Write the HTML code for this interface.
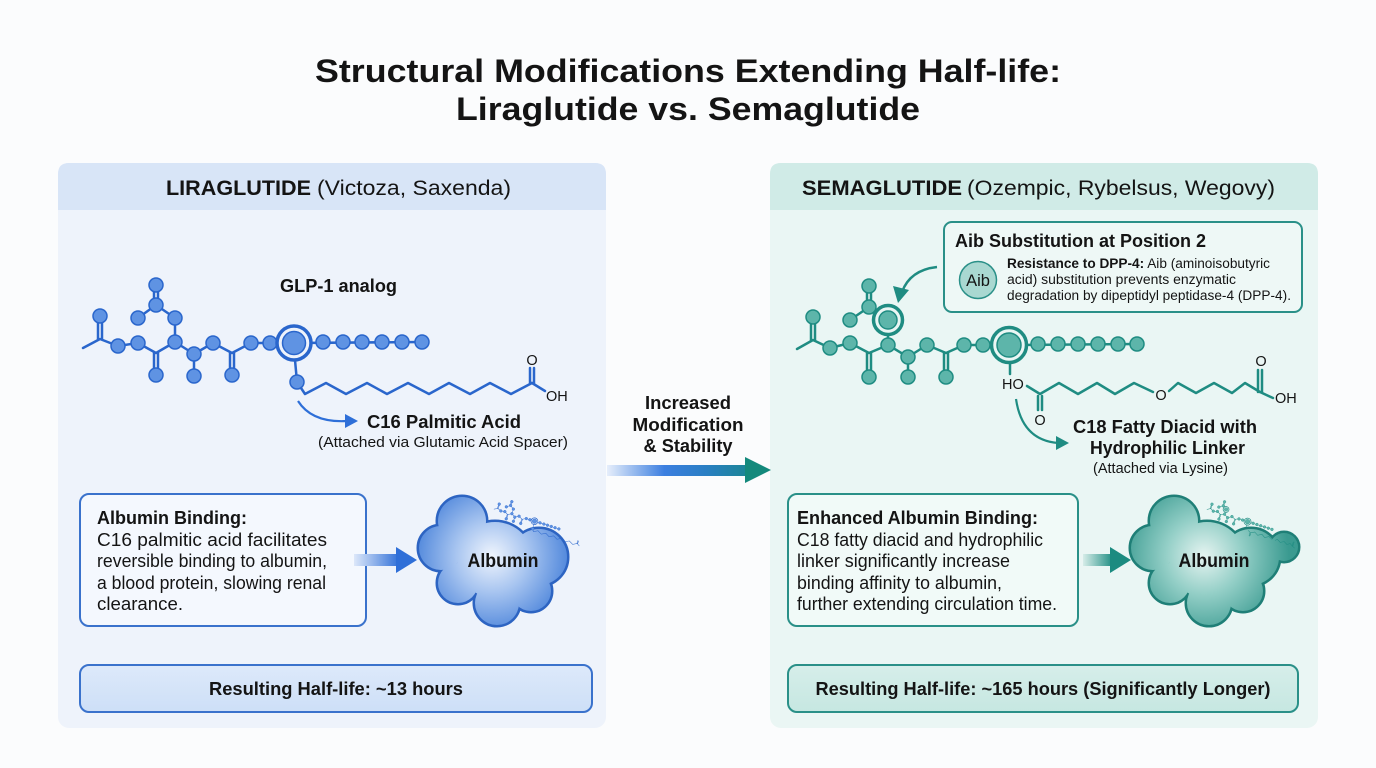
<!DOCTYPE html>
<html>
<head>
<meta charset="utf-8">
<style>
html,body{margin:0;padding:0;background:#fbfcfd;}
svg{display:block;}
text{font-family:"Liberation Sans",Arial,sans-serif;fill:#141414;}
.b{font-weight:bold;}
</style>
</head>
<body>
<svg width="1376" height="768" viewBox="0 0 1376 768" xmlns="http://www.w3.org/2000/svg">
<defs>
  <linearGradient id="centerArrow" x1="607" y1="0" x2="771" y2="0" gradientUnits="userSpaceOnUse">
    <stop offset="0" stop-color="#e6eefb"/>
    <stop offset="0.35" stop-color="#3c7fe0"/>
    <stop offset="0.6" stop-color="#2a7fc4"/>
    <stop offset="1" stop-color="#14897c"/>
  </linearGradient>
  <linearGradient id="arrL" x1="352" y1="0" x2="400" y2="0" gradientUnits="userSpaceOnUse">
    <stop offset="0" stop-color="#e4edfb"/>
    <stop offset="1" stop-color="#2f6fd8"/>
  </linearGradient>
  <linearGradient id="arrR" x1="1082" y1="0" x2="1114" y2="0" gradientUnits="userSpaceOnUse">
    <stop offset="0" stop-color="#dcf0ec"/>
    <stop offset="1" stop-color="#1b8b80"/>
  </linearGradient>
  <radialGradient id="blobL" cx="492" cy="556" r="80" gradientUnits="userSpaceOnUse">
    <stop offset="0" stop-color="#f0f5fd"/>
    <stop offset="0.45" stop-color="#a8c5f0"/>
    <stop offset="1" stop-color="#4a83da"/>
  </radialGradient>
  <radialGradient id="blobR" cx="1204" cy="556" r="85" gradientUnits="userSpaceOnUse">
    <stop offset="0" stop-color="#e6f4f1"/>
    <stop offset="0.45" stop-color="#94cfc7"/>
    <stop offset="1" stop-color="#3a9a90"/>
  </radialGradient>
  <linearGradient id="hlL" x1="0" y1="665" x2="0" y2="712" gradientUnits="userSpaceOnUse">
    <stop offset="0" stop-color="#dde9fa"/>
    <stop offset="1" stop-color="#cddff7"/>
  </linearGradient>
  <linearGradient id="hlR" x1="0" y1="665" x2="0" y2="712" gradientUnits="userSpaceOnUse">
    <stop offset="0" stop-color="#d6eeea"/>
    <stop offset="1" stop-color="#c6e7e1"/>
  </linearGradient>

  <!-- Liraglutide skeleton -->
  <g id="molL">
    <g fill="none" stroke="#2a66cc" stroke-width="2.5" stroke-linecap="round" stroke-linejoin="round">
      <polyline points="83,348 100,339 118,346 138,343 156,353 175,342 194,354 213,343 232,353 251,343 270,343 294,343 422,342"/>
      <line x1="98" y1="339" x2="98" y2="316"/><line x1="102" y1="339" x2="102" y2="316"/>
      <line x1="154" y1="353" x2="154" y2="375"/><line x1="158" y1="353" x2="158" y2="375"/>
      <line x1="230" y1="353" x2="230" y2="375"/><line x1="234" y1="353" x2="234" y2="375"/>
      <polyline points="175,342 175,318 156,305 138,318"/>
      <line x1="154" y1="305" x2="154" y2="285"/><line x1="158" y1="305" x2="158" y2="285"/>
      <line x1="194" y1="354" x2="194" y2="376"/>
      <line x1="295" y1="360" x2="297" y2="382"/>
      <polyline points="297,382 305,394 326,383 346,394 367,383 387,394 408,383 429,394 449,383 470,394 490,383 511,394 532,383"/>
      <line x1="530" y1="383" x2="530" y2="368"/><line x1="534" y1="383" x2="534" y2="368"/>
      <line x1="532" y1="383" x2="545" y2="391"/>
    </g>
    <g fill="#5f93e3" stroke="#2a66cc" stroke-width="1.5">
      <circle cx="100" cy="316" r="7"/><circle cx="118" cy="346" r="7"/><circle cx="138" cy="343" r="7"/>
      <circle cx="156" cy="375" r="7"/><circle cx="175" cy="342" r="7"/><circle cx="175" cy="318" r="7"/>
      <circle cx="138" cy="318" r="7"/><circle cx="156" cy="305" r="7"/><circle cx="156" cy="285" r="7"/>
      <circle cx="194" cy="354" r="7"/><circle cx="194" cy="376" r="7"/><circle cx="213" cy="343" r="7"/>
      <circle cx="232" cy="375" r="7"/><circle cx="251" cy="343" r="7"/><circle cx="270" cy="343" r="7"/>
      <circle cx="323" cy="342" r="7"/><circle cx="343" cy="342" r="7"/><circle cx="362" cy="342" r="7"/>
      <circle cx="382" cy="342" r="7"/><circle cx="402" cy="342" r="7"/><circle cx="422" cy="342" r="7"/>
      <circle cx="297" cy="382" r="7"/>
    </g>
    <circle cx="294" cy="343" r="17" fill="#eef3fb" stroke="#2a66cc" stroke-width="3.5"/>
    <circle cx="294" cy="343" r="11.5" fill="#5f93e3" stroke="#2a66cc" stroke-width="1.5"/>
  </g>

  <!-- Semaglutide skeleton -->
  <g id="molR">
    <g fill="none" stroke="#1f8c82" stroke-width="2.5" stroke-linecap="round" stroke-linejoin="round">
      <polyline points="797,349 813,340 830,348 850,343 869,353 888,345 908,357 927,345 946,353 964,345 983,345 1009,345 1137,344"/>
      <line x1="811" y1="340" x2="811" y2="317"/><line x1="815" y1="340" x2="815" y2="317"/>
      <line x1="867" y1="353" x2="867" y2="377"/><line x1="871" y1="353" x2="871" y2="377"/>
      <line x1="944" y1="353" x2="944" y2="377"/><line x1="948" y1="353" x2="948" y2="377"/>
      <polyline points="888,345 888,320 869,307 850,320"/>
      <line x1="867" y1="307" x2="867" y2="286"/><line x1="871" y1="307" x2="871" y2="286"/>
      <line x1="908" y1="357" x2="908" y2="377"/>
      <line x1="1010" y1="362" x2="1010" y2="374"/>
      <polyline points="1027,386 1040,394 1059,383 1078,394 1097,383 1115,394 1134,383 1153,392"/>
      <line x1="1038" y1="396" x2="1038" y2="410"/><line x1="1042" y1="396" x2="1042" y2="410"/>
      <polyline points="1169,391 1178,383 1196,393 1214,383 1232,393 1245,383 1260,392"/>
      <line x1="1258" y1="392" x2="1258" y2="370"/><line x1="1262" y1="392" x2="1262" y2="370"/>
      <line x1="1260" y1="392" x2="1273" y2="398"/>
    </g>
    <g fill="#5db5aa" stroke="#1f8c82" stroke-width="1.5">
      <circle cx="813" cy="317" r="7"/><circle cx="830" cy="348" r="7"/><circle cx="850" cy="343" r="7"/>
      <circle cx="869" cy="377" r="7"/><circle cx="888" cy="345" r="7"/><circle cx="850" cy="320" r="7"/>
      <circle cx="869" cy="307" r="7"/><circle cx="869" cy="286" r="7"/><circle cx="908" cy="357" r="7"/>
      <circle cx="908" cy="377" r="7"/><circle cx="927" cy="345" r="7"/><circle cx="946" cy="377" r="7"/>
      <circle cx="964" cy="345" r="7"/><circle cx="983" cy="345" r="7"/>
      <circle cx="1038" cy="344" r="7"/><circle cx="1058" cy="344" r="7"/><circle cx="1078" cy="344" r="7"/>
      <circle cx="1098" cy="344" r="7"/><circle cx="1118" cy="344" r="7"/><circle cx="1137" cy="344" r="7"/>
    </g>
    <circle cx="888" cy="320" r="14.5" fill="#eaf6f4" stroke="#1f8c82" stroke-width="3.5"/>
    <circle cx="888" cy="320" r="9" fill="#5db5aa" stroke="#1f8c82" stroke-width="1.5"/>
    <circle cx="1009" cy="345" r="17.5" fill="#eaf6f4" stroke="#1f8c82" stroke-width="3.5"/>
    <circle cx="1009" cy="345" r="12" fill="#5db5aa" stroke="#1f8c82" stroke-width="1.5"/>
  </g>
</defs>

<!-- Title -->
<text x="688" y="82" class="b" font-size="32" text-anchor="middle" textLength="746" lengthAdjust="spacingAndGlyphs">Structural Modifications Extending Half-life:</text>
<text x="688" y="120" class="b" font-size="32" text-anchor="middle" textLength="464" lengthAdjust="spacingAndGlyphs">Liraglutide vs. Semaglutide</text>

<!-- Left panel -->
<rect x="58" y="163" width="548" height="565" rx="11" fill="#eef3fb"/>
<path d="M58,210 L58,174 Q58,163 69,163 L595,163 Q606,163 606,174 L606,210 Z" fill="#d8e5f7"/>
<text x="166" y="195" class="b" font-size="21.5" textLength="145" lengthAdjust="spacingAndGlyphs">LIRAGLUTIDE</text>
<text x="317" y="195" font-size="21.5" textLength="194" lengthAdjust="spacingAndGlyphs">(Victoza, Saxenda)</text>

<!-- Right panel -->
<rect x="770" y="163" width="548" height="565" rx="11" fill="#eaf6f4"/>
<path d="M770,210 L770,174 Q770,163 781,163 L1307,163 Q1318,163 1318,174 L1318,210 Z" fill="#d0ebe7"/>
<text x="802" y="195" class="b" font-size="21.5" textLength="160" lengthAdjust="spacingAndGlyphs">SEMAGLUTIDE</text>
<text x="967" y="195" font-size="21.5" textLength="308" lengthAdjust="spacingAndGlyphs">(Ozempic, Rybelsus, Wegovy)</text>

<!-- Left molecule -->
<text x="280" y="292" class="b" font-size="18" textLength="117" lengthAdjust="spacingAndGlyphs">GLP-1 analog</text>
<use href="#molL"/>
<text x="532" y="365" font-size="14.5" text-anchor="middle">O</text>
<text x="546" y="401" font-size="14.5">OH</text>
<path d="M298,401 Q312,423 347,421" fill="none" stroke="#2e6fd8" stroke-width="2.2"/>
<polygon points="345,414 358,421 345,428" fill="#2e6fd8"/>
<text x="367" y="428" class="b" font-size="18.5" textLength="154" lengthAdjust="spacingAndGlyphs">C16 Palmitic Acid</text>
<text x="318" y="447" font-size="14.5" textLength="250" lengthAdjust="spacingAndGlyphs">(Attached via Glutamic Acid Spacer)</text>

<!-- Right molecule -->
<rect x="944" y="222" width="358" height="90" rx="8" fill="#eef8f6" stroke="#2a9088" stroke-width="2"/>
<text x="955" y="247" class="b" font-size="18" textLength="251" lengthAdjust="spacingAndGlyphs">Aib Substitution at Position 2</text>
<circle cx="978" cy="280" r="18.5" fill="#a9d8d1" stroke="#2a9088" stroke-width="1.5"/>
<text x="978" y="286" font-size="16.5" text-anchor="middle">Aib</text>
<text x="1007" y="268" font-size="13.5" textLength="263" lengthAdjust="spacingAndGlyphs"><tspan class="b">Resistance to DPP-4:</tspan> Aib (aminoisobutyric</text>
<text x="1007" y="284" font-size="13.5" textLength="229" lengthAdjust="spacingAndGlyphs">acid) substitution prevents enzymatic</text>
<text x="1007" y="300" font-size="13.5" textLength="284" lengthAdjust="spacingAndGlyphs">degradation by dipeptidyl peptidase-4 (DPP-4).</text>
<path d="M937,267 Q910,270 902,292" fill="none" stroke="#1f8c82" stroke-width="2.5"/>
<polygon points="893,286 898,303 909,290" fill="#1f8c82"/>

<use href="#molR"/>
<text x="1002" y="389" font-size="14.5">HO</text>
<text x="1040" y="425" font-size="14.5" text-anchor="middle">O</text>
<text x="1161" y="400" font-size="14.5" text-anchor="middle">O</text>
<text x="1261" y="366" font-size="14.5" text-anchor="middle">O</text>
<text x="1275" y="403" font-size="14.5">OH</text>
<path d="M1016,399 Q1022,440 1058,443" fill="none" stroke="#1f8c82" stroke-width="2.2"/>
<polygon points="1056,436 1069,443 1056,450" fill="#1f8c82"/>
<text x="1073" y="433" class="b" font-size="18.5" textLength="184" lengthAdjust="spacingAndGlyphs">C18 Fatty Diacid with</text>
<text x="1090" y="454" class="b" font-size="18.5" textLength="155" lengthAdjust="spacingAndGlyphs">Hydrophilic Linker</text>
<text x="1093" y="473" font-size="14.5" textLength="135" lengthAdjust="spacingAndGlyphs">(Attached via Lysine)</text>

<!-- Center arrow -->
<text x="688" y="409" class="b" font-size="18" text-anchor="middle" textLength="86" lengthAdjust="spacingAndGlyphs">Increased</text>
<text x="688" y="431" class="b" font-size="18" text-anchor="middle" textLength="111" lengthAdjust="spacingAndGlyphs">Modification</text>
<text x="688" y="452" class="b" font-size="18" text-anchor="middle" textLength="89" lengthAdjust="spacingAndGlyphs">&amp; Stability</text>
<rect x="607" y="465" width="141" height="11" fill="url(#centerArrow)"/>
<polygon points="745,457 771,470 745,483" fill="#14897c"/>

<!-- Left albumin box -->
<rect x="80" y="494" width="286" height="132" rx="9" fill="#f4f8fe" stroke="#3a72cc" stroke-width="2"/>
<text x="97" y="524" class="b" font-size="18" textLength="150" lengthAdjust="spacingAndGlyphs">Albumin Binding:</text>
<text x="97" y="546" font-size="18.5" textLength="230" lengthAdjust="spacingAndGlyphs">C16 palmitic acid facilitates</text>
<text x="97" y="567" font-size="18.5" textLength="230" lengthAdjust="spacingAndGlyphs">reversible binding to albumin,</text>
<text x="97" y="589" font-size="18.5" textLength="229" lengthAdjust="spacingAndGlyphs">a blood protein, slowing renal</text>
<text x="97" y="610" font-size="18.5" textLength="86" lengthAdjust="spacingAndGlyphs">clearance.</text>
<rect x="354" y="554" width="44" height="12" fill="url(#arrL)"/>
<polygon points="396,547 417,560 396,573" fill="#2f6fd8"/>

<!-- Left blob -->
<g stroke="#2d64c2" stroke-width="5" fill="#2d64c2">
  <circle cx="462" cy="521" r="24"/><circle cx="441" cy="548" r="22"/><circle cx="539" cy="557" r="28"/>
  <circle cx="495" cy="560" r="38"/><circle cx="458" cy="583" r="20"/><circle cx="497" cy="603" r="22"/>
  <circle cx="531" cy="591" r="20"/>
</g>
<g fill="url(#blobL)">
  <circle cx="462" cy="521" r="24"/><circle cx="441" cy="548" r="22"/><circle cx="539" cy="557" r="28"/>
  <circle cx="495" cy="560" r="38"/><circle cx="458" cy="583" r="20"/><circle cx="497" cy="603" r="22"/>
  <circle cx="531" cy="591" r="20"/>
</g>
<use href="#molL" transform="translate(497,500) rotate(18) scale(0.2) translate(-83,-300)"/>
<text x="503" y="567" class="b" font-size="19" text-anchor="middle" textLength="71" lengthAdjust="spacingAndGlyphs">Albumin</text>

<!-- Right albumin box -->
<rect x="788" y="494" width="290" height="132" rx="9" fill="#f1faf8" stroke="#2a9088" stroke-width="2"/>
<text x="797" y="524" class="b" font-size="18" textLength="241" lengthAdjust="spacingAndGlyphs">Enhanced Albumin Binding:</text>
<text x="797" y="546" font-size="18.5" textLength="246" lengthAdjust="spacingAndGlyphs">C18 fatty diacid and hydrophilic</text>
<text x="797" y="567" font-size="18.5" textLength="213" lengthAdjust="spacingAndGlyphs">linker significantly increase</text>
<text x="797" y="589" font-size="18.5" textLength="205" lengthAdjust="spacingAndGlyphs">binding affinity to albumin,</text>
<text x="797" y="610" font-size="18.5" textLength="260" lengthAdjust="spacingAndGlyphs">further extending circulation time.</text>
<rect x="1083" y="554" width="30" height="12" fill="url(#arrR)"/>
<polygon points="1110,547 1131,560 1110,573" fill="#1b8b80"/>

<!-- Right blob -->
<g stroke="#1f7f77" stroke-width="5" fill="#1f7f77">
  <circle cx="1174" cy="521" r="24"/><circle cx="1153" cy="548" r="22"/><circle cx="1251" cy="557" r="28"/>
  <circle cx="1207" cy="560" r="38"/><circle cx="1170" cy="583" r="20"/><circle cx="1209" cy="603" r="22"/>
  <circle cx="1243" cy="591" r="20"/><circle cx="1284" cy="547" r="14"/>
</g>
<g fill="url(#blobR)">
  <circle cx="1174" cy="521" r="24"/><circle cx="1153" cy="548" r="22"/><circle cx="1251" cy="557" r="28"/>
  <circle cx="1207" cy="560" r="38"/><circle cx="1170" cy="583" r="20"/><circle cx="1209" cy="603" r="22"/>
  <circle cx="1243" cy="591" r="20"/><circle cx="1284" cy="547" r="14"/>
</g>
<use href="#molR" transform="translate(1210,500) rotate(18) scale(0.2) translate(-797,-300)"/>
<text x="1214" y="567" class="b" font-size="19" text-anchor="middle" textLength="71" lengthAdjust="spacingAndGlyphs">Albumin</text>

<!-- Half-life boxes -->
<rect x="80" y="665" width="512" height="47" rx="9" fill="url(#hlL)" stroke="#3a72cc" stroke-width="2"/>
<text x="336" y="695" class="b" font-size="18" text-anchor="middle" textLength="254" lengthAdjust="spacingAndGlyphs">Resulting Half-life: ~13 hours</text>
<rect x="788" y="665" width="510" height="47" rx="9" fill="url(#hlR)" stroke="#2a9088" stroke-width="2"/>
<text x="1043" y="695" class="b" font-size="18" text-anchor="middle" textLength="455" lengthAdjust="spacingAndGlyphs">Resulting Half-life: ~165 hours (Significantly Longer)</text>
</svg>
</body>
</html>
